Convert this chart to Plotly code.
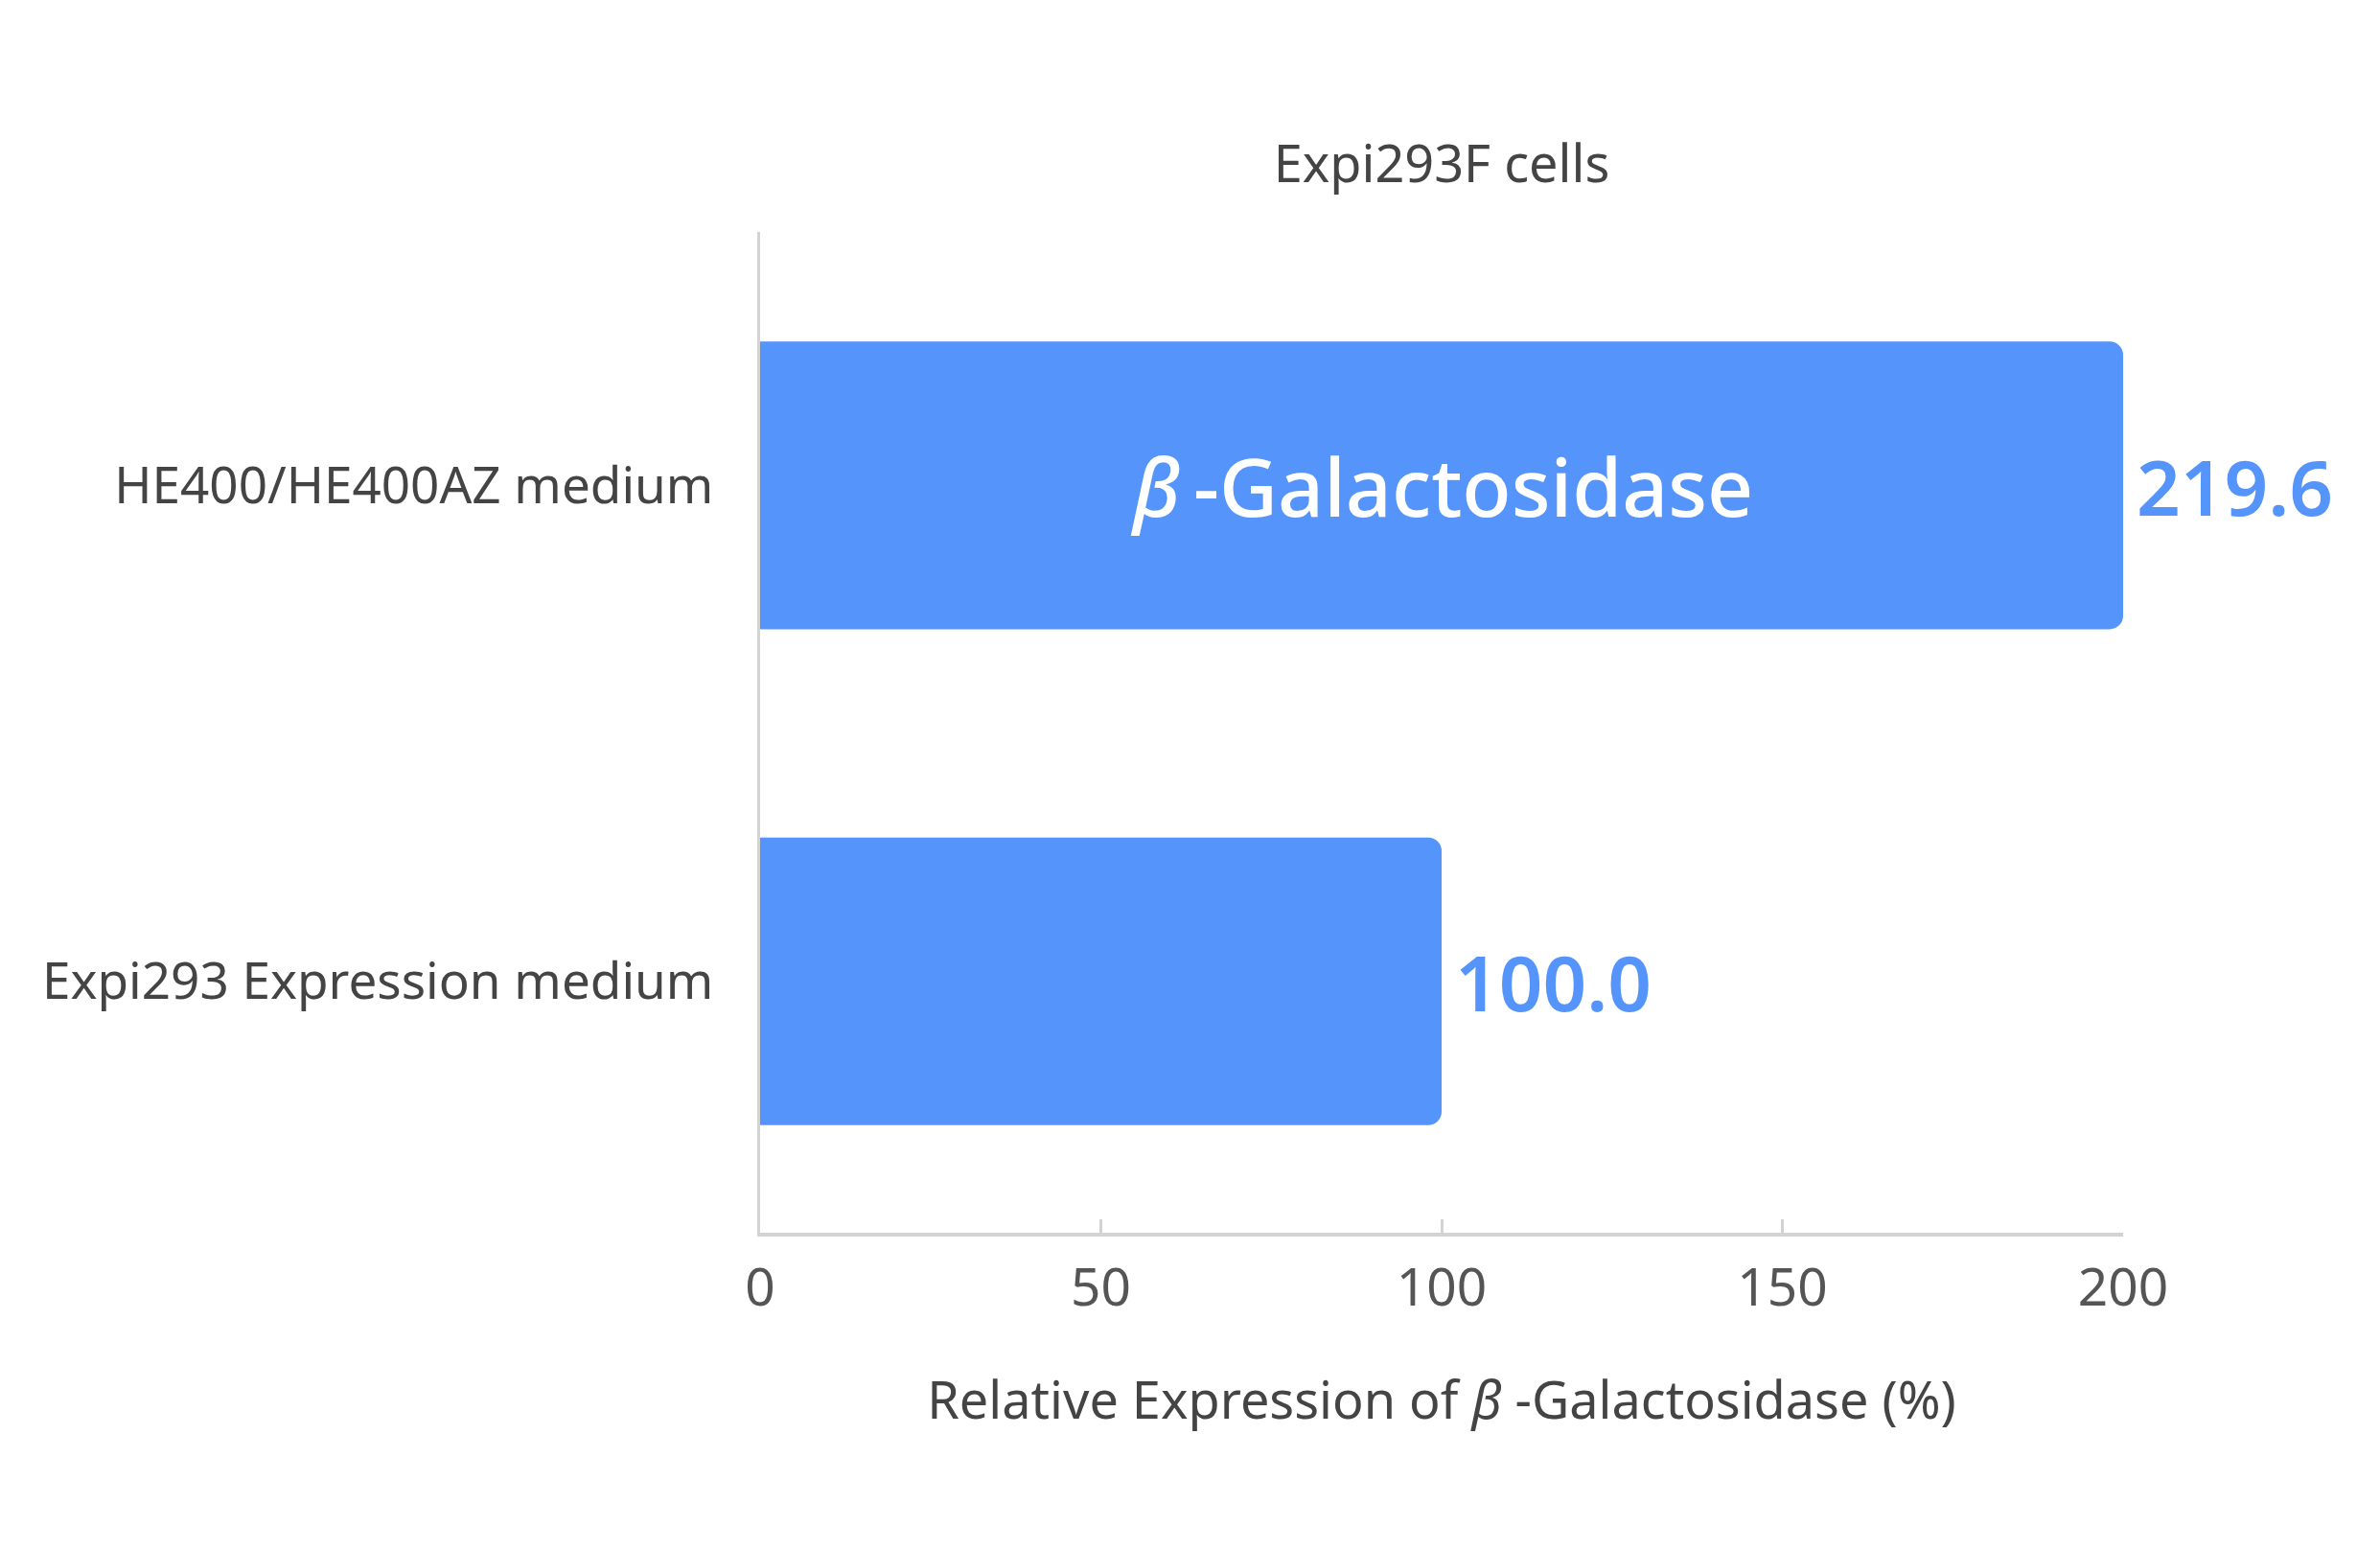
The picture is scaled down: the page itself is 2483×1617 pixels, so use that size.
import plotly.graph_objects as go

categories = ["HE400/HE400AZ medium", "Expi293 Expression medium"]
values = [219.6, 100.0]
x_ticks = [0, 50, 100, 150, 200]
x_max = 200
title_text = "Expi293F cells"
x_title = "Relative Expression of <i>β</i> -Galactosidase (%)"
inner_label = "<i>β</i>\u2009-Galactosidase"

BAR = "#5595FB"
GRID = "#d3d3d3"
FONT = "Noto Sans"

shown = [min(v, x_max) for v in values]

fig = go.Figure()
fig.add_trace(go.Bar(
    y=categories, x=shown, orientation="h",
    marker=dict(color=BAR, line=dict(width=0)),
    width=0.58,
    hoverinfo="skip",
))

for cat, s, v in zip(categories, shown, values):
    fig.add_annotation(
        x=s, y=cat, xref="x", yref="y", xanchor="left", xshift=12,
        text=f"{v:.1f}", showarrow=False,
        font=dict(family=FONT, size=80, color=BAR, weight=600),
    )

fig.add_annotation(
    x=x_max / 2, y=categories[0], xref="x", yref="y",
    text=inner_label, showarrow=False,
    font=dict(family=FONT, size=84, color="white", weight=500),
)

fig.update_layout(
    width=2483, height=1617,
    margin=dict(l=785, r=276, t=234, b=339),
    paper_bgcolor="white", plot_bgcolor="white",
    showlegend=False,
    barcornerradius=14,
    title=dict(text=title_text, x=0.5, xref="paper", y=1 - 163 / 1617, yanchor="middle",
               font=dict(family=FONT, size=54, color="#444444")),
    xaxis=dict(
        range=[0, x_max], tickvals=x_ticks, ticktext=[str(t) for t in x_ticks],
        showgrid=False, zeroline=False,
        showline=True, linecolor=GRID, linewidth=4,
        ticks="inside", ticklen=14, tickwidth=3, tickcolor=GRID,
        tickfont=dict(family=FONT, size=55, color="#555555"),
        ticklabelstandoff=6,
        title=dict(text=x_title, standoff=66, font=dict(family=FONT, size=54, color="#444444")),
        fixedrange=True,
    ),
    yaxis=dict(
        categoryorder="array", categoryarray=categories,
        range=[1.507, -0.511],
        showgrid=False, zeroline=False,
        showline=True, linecolor=GRID, linewidth=3,
        ticks="", tickfont=dict(family=FONT, size=53, color="#444444"),
        ticklabelstandoff=35,
        fixedrange=True,
    ),
)

fig.write_html("out.html")
